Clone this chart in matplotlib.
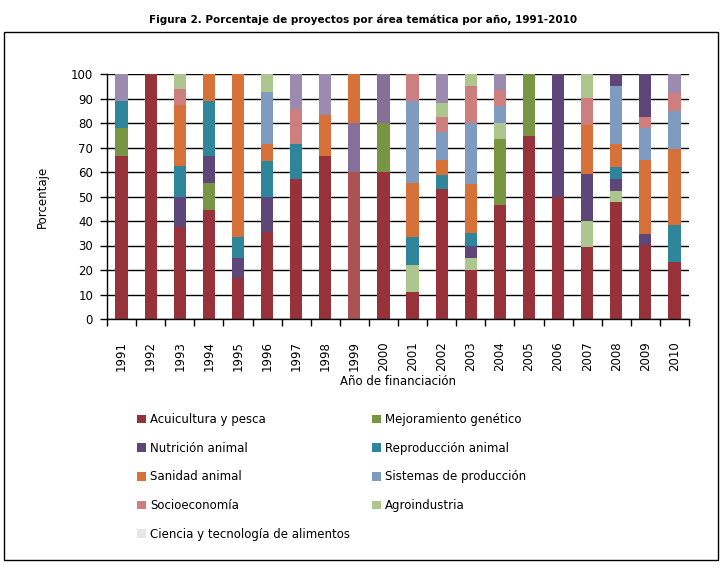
import matplotlib
matplotlib.use('Agg')
import matplotlib.pyplot as plt
import numpy as np
from matplotlib.patches import Rectangle

plt.rcParams['font.family'] = ['DejaVu Sans']

years = [str(y) for y in range(1991, 2011)]

# porcentaje por area tematica (orden de apilado, de abajo hacia arriba)
acuicultura = [66.7, 100, 37.5, 44.4, 16.7, 35.7, 57.1, 66.7, 60, 60,
               11.1, 52.9, 20, 46.7, 74.5, 50, 29.4, 47.6, 30.4, 23.1]
mejoramiento = [11.1, 0, 0, 11.1, 0, 0, 0, 0, 0, 20,
                0, 0, 0, 26.7, 25.5, 0, 0, 0, 0, 0]
otros_verde = [0, 0, 0, 0, 0, 0, 0, 0, 0, 0,
               11.1, 0, 5, 6.7, 0, 0, 10.7, 4.8, 0, 0]
nutricion = [0, 0, 12.5, 11.1, 8.3, 14.3, 0, 0, 20, 0,
             0, 0, 5, 0, 0, 50, 19.2, 4.8, 4.3, 0]
reproduccion = [11.1, 0, 12.5, 22.2, 8.3, 14.3, 14.3, 0, 0, 0,
                11.1, 5.9, 5, 0, 0, 0, 0, 4.8, 0, 15.4]
sanidad = [0, 0, 25, 11.1, 66.7, 7.1, 0, 16.7, 20, 0,
           22.2, 5.9, 20, 0, 0, 0, 20, 9.5, 30.4, 30.8]
sistemas = [0, 0, 0, 0, 0, 21.4, 0, 0, 0, 0,
            33.3, 11.8, 25, 6.7, 0, 0, 0, 23.8, 13.0, 15.4]
socioeconomia = [0, 0, 6.25, 0, 0, 0, 14.3, 0, 0, 0,
                 11.1, 5.9, 15, 6.7, 0, 0, 11, 0, 4.3, 7.7]
agroindustria = [0, 0, 6.25, 0, 0, 7.1, 0, 0, 0, 0,
                 0, 5.9, 5, 0, 0, 0, 9.7, 0, 0, 0]
otros_morado = [0, 0, 0, 0, 0, 0, 0, 0, 0, 0,
                0, 0, 0, 0, 0, 0, 0, 4.8, 17.4, 0]
otros_malva = [11.1, 0, 0, 0, 0, 0, 14.3, 16.7, 0, 20,
               0, 11.8, 0, 6.7, 0, 0, 0, 0, 0, 7.7]
ciencia = [0] * 20

series = [
    ('Acuicultura y pesca', acuicultura, '#97313a'),
    ('Mejoramiento genético', mejoramiento, '#789544'),
    ('_otros1', otros_verde, '#adc68d'),
    ('Nutrición animal', nutricion, '#5f4678'),
    ('Reproducción animal', reproduccion, '#2f8599'),
    ('Sanidad animal', sanidad, '#d7713a'),
    ('Sistemas de producción', sistemas, '#7f9bc0'),
    ('Socioeconomía', socioeconomia, '#cd7f7f'),
    ('Agroindustria', agroindustria, '#adc68d'),
    ('_otros2', otros_morado, '#5f4678'),
    ('_otros3', otros_malva, '#9b8bae'),
    ('Ciencia y tecnología de alimentos', ciencia, '#e6e6e6'),
]

fig = plt.figure(figsize=(7.27, 5.74), dpi=100)
W, H = 727, 574
ax = fig.add_axes([107 / W, (H - 319) / H, 582 / W, 245 / H])

x = np.arange(len(years))
bottom = np.zeros(len(years))
handles = {}
for name, vals, col in series:
    v = np.array(vals, dtype=float)
    handles[name] = ax.bar(x, v, 0.42, bottom=bottom, color=col, label=name, zorder=2)
    bottom += v

# barras de 1999 y 2000 con tonos distintos en el original
handles['Acuicultura y pesca'][8].set_facecolor('#ab5252')
handles['Nutrición animal'][8].set_facecolor('#86709a')
handles['_otros3'][9].set_facecolor('#86709a')

ax.set_xlim(-0.5, len(years) - 0.5)
ax.set_ylim(0, 100)
ax.set_yticks(range(0, 101, 10))
ax.yaxis.grid(True, color='black', linewidth=1)
ax.set_axisbelow(True)
ax.set_xticks(x)
ax.set_xticklabels(years, rotation=90)
ax.set_xticks(np.arange(-0.5, len(years), 1), minor=True)
ax.tick_params(axis='x', which='major', length=0, pad=16, labelsize=8.5)
ax.tick_params(axis='x', which='minor', length=5, width=1, direction='out')
ax.tick_params(axis='y', length=5, width=1, direction='out', labelsize=8.5, pad=5)
for s in ['top', 'right']:
    ax.spines[s].set_visible(False)
for s in ['left', 'bottom']:
    ax.spines[s].set_linewidth(1)
ax.set_ylabel('Porcentaje', fontsize=8.5, labelpad=16)
ax.set_xlabel('Año de financiación', fontsize=8.5, labelpad=3)

order = ['Acuicultura y pesca', 'Nutrición animal', 'Sanidad animal', 'Socioeconomía',
         'Ciencia y tecnología de alimentos', 'Mejoramiento genético',
         'Reproducción animal', 'Sistemas de producción', 'Agroindustria']
fig.legend([handles[n] for n in order], order, ncol=2, loc='upper left',
           bbox_to_anchor=(137 / W, 1 - 413 / H), frameon=False, fontsize=8.5,
           handlelength=0.75, handleheight=0.75, handletextpad=0.35,
           labelspacing=1.33, columnspacing=1.85, borderpad=0, borderaxespad=0)

fig.text(0.5, 1 - 20 / H, 'Figura 2. Porcentaje de proyectos por área temática por año, 1991-2010',
         ha='center', va='center', fontsize=7.5, fontweight='bold')

fig.patches.append(Rectangle((4 / W, 1 - 560 / H), 714 / W, 528 / H, transform=fig.transFigure,
                             fill=False, edgecolor='black', linewidth=1))

fig.savefig('out.png', dpi=100)
